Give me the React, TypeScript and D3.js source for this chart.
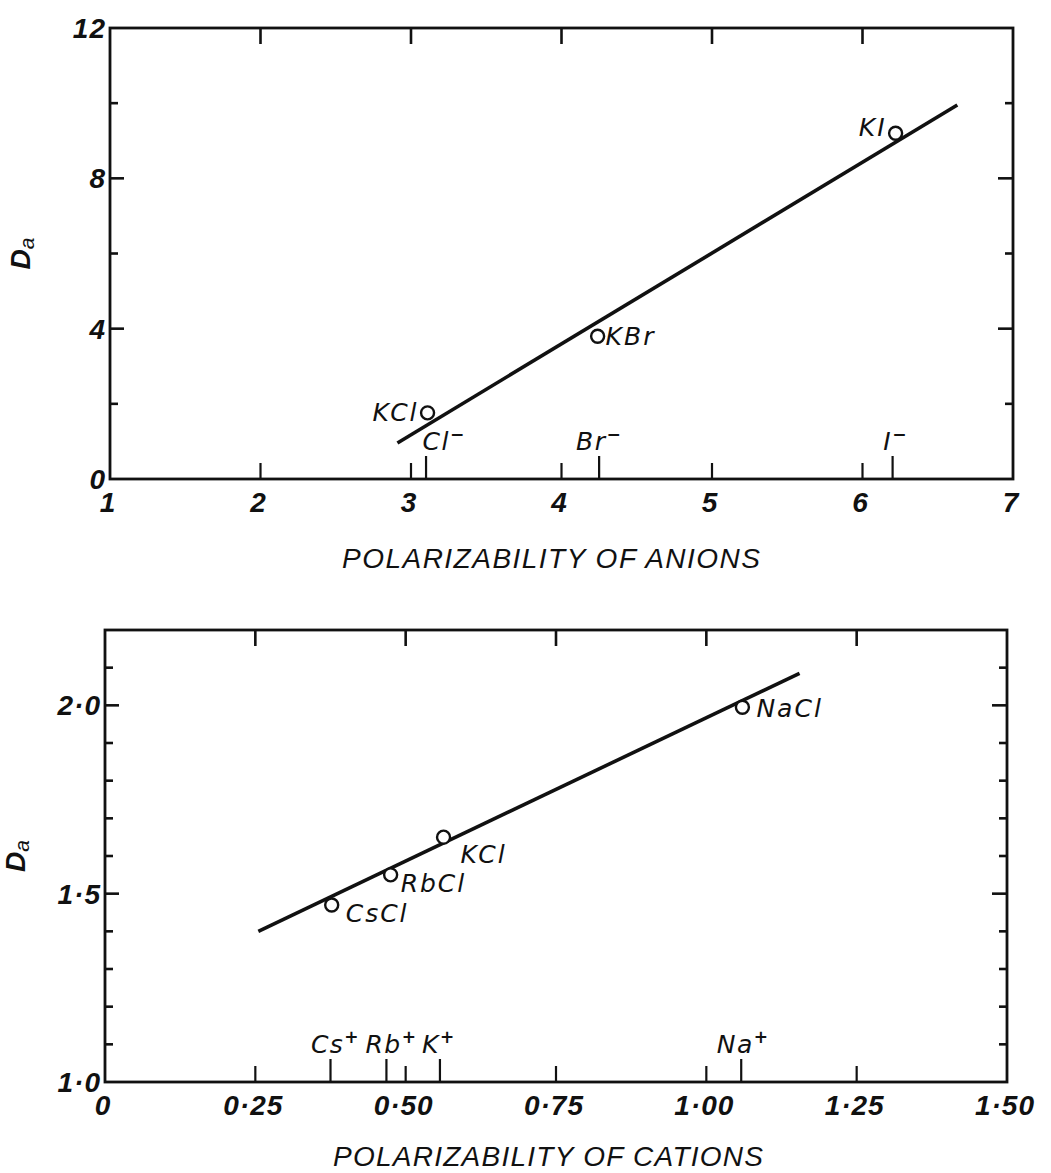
import React from "react";
import * as d3 from "d3";

// ---------- Top panel: anions ----------
const anionXTicks = [1, 2, 3, 4, 5, 6, 7];
const anionXLabels = ["1", "2", "3", "4", "5", "6", "7"];
const anionYMajor = [0, 4, 8, 12];
const anionYLabels = ["0", "4", "8", "12"];
const anionYMinor = [2, 6, 10];
const anionIons = ["Cl", "Br", "I"];
const anionIonX = [3.1, 4.25, 6.2];
const anionSalts = ["KCl", "KBr", "KI"];
const anionSaltX = [3.11, 4.24, 6.22];
const anionSaltY = [1.76, 3.8, 9.2];
const anionFitX = [2.91, 6.63];
const anionFitY = [0.96, 9.95];

// ---------- Bottom panel: cations ----------
const cationXTicks = [0, 0.25, 0.5, 0.75, 1.0, 1.25, 1.5];
const cationXLabels = ["0", "0·25", "0·50", "0·75", "1·00", "1·25", "1·50"];
const cationYMajor = [1.0, 1.5, 2.0];
const cationYLabels = ["1·0", "1·5", "2·0"];
const cationYMinor = [1.1, 1.2, 1.3, 1.4, 1.6, 1.7, 1.8, 1.9, 2.1];
const cationIons = ["Cs", "Rb", "K", "Na"];
const cationIonX = [0.375, 0.468, 0.557, 1.058];
const cationSalts = ["CsCl", "RbCl", "KCl", "NaCl"];
const cationSaltX = [0.377, 0.475, 0.563, 1.06];
const cationSaltY = [1.47, 1.55, 1.65, 1.995];
const cationFitX = [0.255, 1.155];
const cationFitY = [1.4, 2.085];

// label placement (pixel offsets from the marker), style only
const anionSaltOffsets = [
  { dx: -9, dy: 8, anchor: "end" },
  { dx: 8, dy: 9, anchor: "start" },
  { dx: -9, dy: 3, anchor: "end" },
];
const anionIonOffsets = [18, 0, 3];
const cationSaltOffsets = [
  { dx: 14, dy: 17, anchor: "start" },
  { dx: 10, dy: 17, anchor: "start" },
  { dx: 17, dy: 26, anchor: "start" },
  { dx: 14, dy: 10, anchor: "start" },
];
const cationIonOffsets = [5, 5, -1, 2];

const TICK_FONT = "'Liberation Sans', Arial, sans-serif";
const LABEL_FONT = "'DejaVu Sans', 'Liberation Sans', sans-serif";
const INK = "#111";

type PanelProps = {
  x0: number; x1: number; y0: number; y1: number;
  xDomain: [number, number]; yDomain: [number, number];
  xTicks: number[]; xLabels: string[];
  yMajor: number[]; yLabels: string[]; yMinor: number[];
  ions: string[]; ionX: number[]; ionSign: string; ionOffsets: number[];
  salts: string[]; saltX: number[]; saltY: number[];
  saltOffsets: { dx: number; dy: number; anchor: string }[];
  fitX: number[]; fitY: number[];
  title: string; titleX: number; titleY: number; titleLen: number;
};

function Panel(p: PanelProps) {
  const x = d3.scaleLinear().domain(p.xDomain).range([p.x0, p.x1]);
  const y = d3.scaleLinear().domain(p.yDomain).range([p.y1, p.y0]);
  const line = d3
    .line<number>()
    .x((_, i) => x(p.fitX[i]))
    .y((_, i) => y(p.fitY[i]));
  const innerX = p.xTicks.filter(
    (t) => t !== p.xDomain[0] && t !== p.xDomain[1]
  );
  const midY = (p.y0 + p.y1) / 2;
  return (
    <g>
      <rect
        x={p.x0}
        y={p.y0}
        width={p.x1 - p.x0}
        height={p.y1 - p.y0}
        fill="none"
        stroke={INK}
        strokeWidth={2.8}
      />
      {innerX.map((t, i) => (
        <g key={"xt" + i}>
          <line x1={x(t)} x2={x(t)} y1={p.y1} y2={p.y1 - 16} stroke={INK} strokeWidth={2.2} />
          <line x1={x(t)} x2={x(t)} y1={p.y0} y2={p.y0 + 16} stroke={INK} strokeWidth={2.6} />
        </g>
      ))}
      {p.ionX.map((v, i) => (
        <line key={"it" + i} x1={x(v)} x2={x(v)} y1={p.y1} y2={p.y1 - 23} stroke={INK} strokeWidth={2.2} />
      ))}
      {p.yMajor
        .filter((t) => t !== p.yDomain[0] && t !== p.yDomain[1])
        .map((t, i) => (
          <g key={"ym" + i}>
            <line x1={p.x0} x2={p.x0 + 14} y1={y(t)} y2={y(t)} stroke={INK} strokeWidth={2.6} />
            <line x1={p.x1} x2={p.x1 - 15} y1={y(t)} y2={y(t)} stroke={INK} strokeWidth={2.6} />
          </g>
        ))}
      {p.yMinor.map((t, i) => (
        <g key={"yn" + i}>
          <line x1={p.x0} x2={p.x0 + 8} y1={y(t)} y2={y(t)} stroke={INK} strokeWidth={2.6} />
          <line x1={p.x1} x2={p.x1 - 8} y1={y(t)} y2={y(t)} stroke={INK} strokeWidth={2.6} />
        </g>
      ))}
      {p.xTicks.map((t, i) => (
        <text
          key={"xl" + i}
          x={x(t) - 2}
          y={p.y1 + 33}
          textAnchor="middle"
          fontFamily={TICK_FONT}
          fontStyle="italic"
          fontWeight="bold"
          fontSize={28}
          letterSpacing={1}
          fill={INK}
        >
          {p.xLabels[i]}
        </text>
      ))}
      {p.yMajor.map((t, i) => (
        <text
          key={"yl" + i}
          x={p.x0 - 4}
          y={y(t) + 10}
          textAnchor="end"
          fontFamily={TICK_FONT}
          fontStyle="italic"
          fontWeight="bold"
          fontSize={28}
          letterSpacing={1}
          fill={INK}
        >
          {p.yLabels[i]}
        </text>
      ))}
      <path d={line(p.fitX) || ""} fill="none" stroke={INK} strokeWidth={3.6} />
      {p.salts.map((s, i) => {
        const o = p.saltOffsets[i];
        return (
          <g key={"s" + i}>
            <circle cx={x(p.saltX[i])} cy={y(p.saltY[i])} r={6.5} fill="#fff" stroke={INK} strokeWidth={2.4} />
            <text
              x={x(p.saltX[i]) + o.dx}
              y={y(p.saltY[i]) + o.dy}
              textAnchor={o.anchor as any}
              fontFamily={LABEL_FONT}
              fontStyle="italic"
              fontSize={25}
              letterSpacing={2}
              fill={INK}
            >
              {s}
            </text>
          </g>
        );
      })}
      {p.ions.map((s, i) => (
        <text
          key={"il" + i}
          x={x(p.ionX[i]) + p.ionOffsets[i]}
          y={p.y1 - 29}
          textAnchor="middle"
          fontFamily={LABEL_FONT}
          fontStyle="italic"
          fontSize={25}
          letterSpacing={1.5}
          fill={INK}
        >
          {s}
          <tspan dy={-10} fontSize={17} fontWeight="bold">
            {p.ionSign}
          </tspan>
        </text>
      ))}
      <text
        transform={`translate(${p.x0 - 80},${midY}) rotate(-90)`}
        textAnchor="middle"
        fontFamily={TICK_FONT}
        fontStyle="italic"
        fontWeight="bold"
        fontSize={28}
        fill={INK}
      >
        D
        <tspan dy={4} fontSize={21} fontWeight="normal">
          a
        </tspan>
      </text>
      <text
        x={p.titleX}
        y={p.titleY}
        textAnchor="middle"
        fontFamily={TICK_FONT}
        fontStyle="italic"
        fontSize={28}
        textLength={p.titleLen}
        lengthAdjust="spacing"
        fill={INK}
      >
        {p.title}
      </text>
    </g>
  );
}

export default function App() {
  return (
    <svg
      width={1051}
      height={1173}
      style={{ position: "absolute", left: 0, top: 0, background: "#fff" }}
    >
      <rect x={0} y={0} width={1051} height={1173} fill="#fff" />
      <Panel
        x0={110}
        x1={1013}
        y0={28}
        y1={479}
        xDomain={[1, 7]}
        yDomain={[0, 12]}
        xTicks={anionXTicks}
        xLabels={anionXLabels}
        yMajor={anionYMajor}
        yLabels={anionYLabels}
        yMinor={anionYMinor}
        ions={anionIons}
        ionX={anionIonX}
        ionSign="−"
        ionOffsets={anionIonOffsets}
        salts={anionSalts}
        saltX={anionSaltX}
        saltY={anionSaltY}
        saltOffsets={anionSaltOffsets}
        fitX={anionFitX}
        fitY={anionFitY}
        title="POLARIZABILITY OF ANIONS"
        titleX={551}
        titleY={568}
        titleLen={418}
      />
      <Panel
        x0={105}
        x1={1007}
        y0={630}
        y1={1082}
        xDomain={[0, 1.5]}
        yDomain={[1.0, 2.2]}
        xTicks={cationXTicks}
        xLabels={cationXLabels}
        yMajor={cationYMajor}
        yLabels={cationYLabels}
        yMinor={cationYMinor}
        ions={cationIons}
        ionX={cationIonX}
        ionSign="+"
        ionOffsets={cationIonOffsets}
        salts={cationSalts}
        saltX={cationSaltX}
        saltY={cationSaltY}
        saltOffsets={cationSaltOffsets}
        fitX={cationFitX}
        fitY={cationFitY}
        title="POLARIZABILITY OF CATIONS"
        titleX={548}
        titleY={1166}
        titleLen={430}
      />
    </svg>
  );
}
